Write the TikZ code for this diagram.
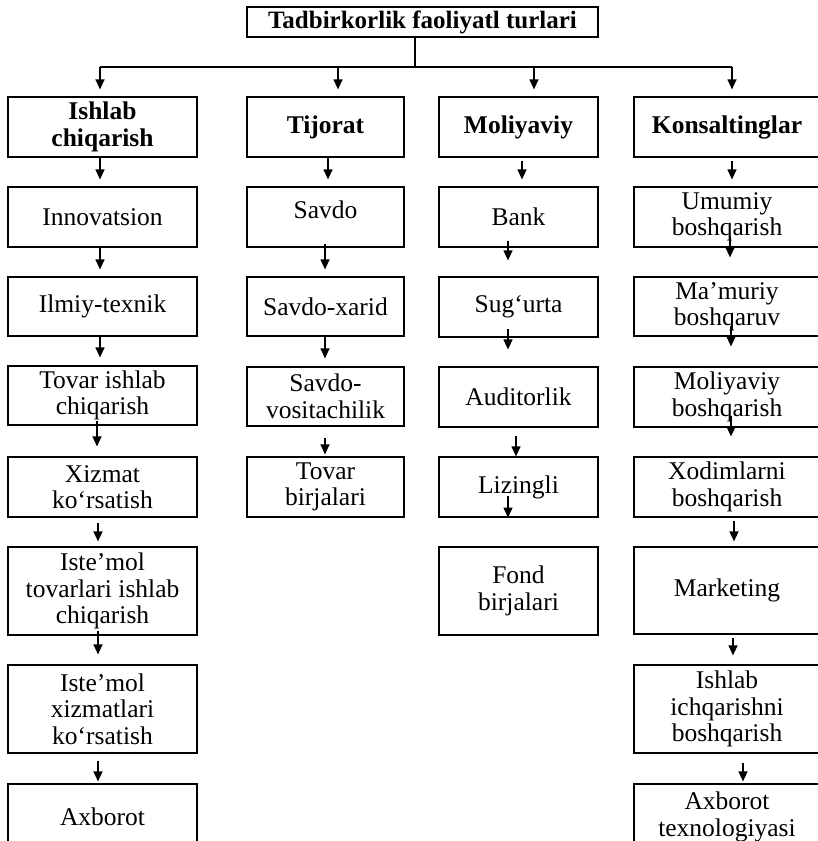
\documentclass[tikz,border=0pt]{standalone}
\usepackage{fontspec}
\setmainfont{Liberation Serif}
\usetikzlibrary{arrows.meta}
\tikzset{
  box/.style={draw, line width=1.2pt, inner sep=0pt, align=center,
    font=\fontsize{25.5}{26.5}\selectfont},
  hbox/.style={box, font=\fontsize{25.5}{26.5}\selectfont\bfseries},
  colA/.style={minimum width=189pt},
  colB/.style={minimum width=157pt},
  colC/.style={minimum width=159pt},
  colD/.style={minimum width=186pt},
  arr/.style={-{Triangle[length=10pt,width=9pt]}, line width=1.2pt},
  trunk/.style={line width=1.2pt}
}
% \conn{from}{to}{xshift}{start yshift}{end yshift}
\newcommand{\conn}[5]{\draw[arr] ([xshift=#3pt,yshift=#4pt]#1.south) -- ([xshift=#3pt,yshift=#5pt]#2.north);}
\begin{document}
\begin{tikzpicture}[x=1pt,y=-1pt]
\clip (0,0) rectangle (818,841);
\fill[white] (0,0) rectangle (818,841);
% title
\node[hbox, minimum width=351pt, minimum height=30pt, font=\fontsize{25}{26}\selectfont\bfseries] (title) at (422.5,22) {Tadbirkorlik faoliyatl turlari};
% headings
\node[hbox, colA, minimum height=60pt] (A1) at (102.5,127) {Ishlab\\chiqarish};
\node[hbox, colB, minimum height=60pt] (A2) at (325.5,127) {Tijorat};
\node[hbox, colC, minimum height=60pt] (A3) at (518.5,127) {Moliyaviy};
\node[hbox, colD, minimum height=60pt] (A4) at (727,127) {Konsaltinglar};
% column 1
\node[box, colA, minimum height=60pt] (a1) at (102.5,217) {Innovatsion};
\node[box, colA, minimum height=59pt] (a2) at (102.5,306.5) {Ilmiy-texnik};
\node[box, colA, minimum height=59pt] (a3) at (102.5,395.5) {Tovar ishlab\\chiqarish};
\node[box, colA, minimum height=60pt] (a4) at (102.5,487) {Xizmat\\ko‘rsatish};
\node[box, colA, minimum height=88pt] (a5) at (102.5,591) {Iste’mol\\tovarlari ishlab\\chiqarish};
\node[box, colA, minimum height=88pt] (a6) at (102.5,709) {Iste’mol\\xizmatlari\\ko‘rsatish};
\node[box, colA, minimum height=66pt] (a7) at (102.5,817) {Axborot};
% column 2
\node[box, colB, minimum height=60pt] (b1) at (325.5,217) {\raisebox{15pt}{Savdo}};
\node[box, colB, minimum height=59pt] (b2) at (325.5,306.5) {Savdo-xarid};
\node[box, colB, minimum height=59pt] (b3) at (325.5,396.5) {Savdo-\\vositachilik};
\node[box, colB, minimum height=60pt] (b4) at (325.5,487) {Tovar\\birjalari};
% column 3
\node[box, colC, minimum height=60pt] (c1) at (518.5,217) {Bank};
\node[box, colC, minimum height=60pt] (c2) at (518.5,307) {Sug‘urta};
\node[box, colC, minimum height=60pt] (c3) at (518.5,397) {Auditorlik};
\node[box, colC, minimum height=60pt] (c4) at (518.5,487) {Lizingli};
\node[box, colC, minimum height=88pt] (c5) at (518.5,591) {Fond\\birjalari};
% column 4
\node[box, colD, minimum height=60pt] (d1) at (727,217) {Umumiy\\boshqarish};
\node[box, colD, minimum height=59pt] (d2) at (727,306.5) {Ma’muriy\\boshqaruv};
\node[box, colD, minimum height=60pt] (d3) at (727,397) {Moliyaviy\\boshqarish};
\node[box, colD, minimum height=60pt] (d4) at (727,487) {Xodimlarni\\boshqarish};
\node[box, colD, minimum height=87pt] (d5) at (727,590.5) {Marketing};
\node[box, colD, minimum height=88pt] (d6) at (727,709) {Ishlab\\ichqarishni\\boshqarish};
\node[box, colD, minimum height=66pt] (d7) at (727,817) {Axborot\\texnologiyasi};
% trunk
\coordinate (tj) at (415,67);
\coordinate (h1) at (100,67);
\coordinate (h2) at (338,67);
\coordinate (h3) at (534,67);
\coordinate (h4) at (732,67);
\draw[trunk] (title.south -| tj) -- (tj);
\draw[trunk] (h1) -- (h4);
\draw[arr] (h1) -- ([yshift=7pt]h1 |- A1.north);
\draw[arr] (h2) -- ([yshift=7pt]h2 |- A2.north);
\draw[arr] (h3) -- ([yshift=7pt]h3 |- A3.north);
\draw[arr] (h4) -- ([yshift=7pt]h4 |- A4.north);
% column 1 arrows
\conn{A1}{a1}{-2.5}{0}{7}
\conn{a1}{a2}{-2.5}{0}{7}
\conn{a2}{a3}{-2.5}{0}{8}
\conn{a3}{a4}{-5.5}{5}{10}
\conn{a4}{a5}{-4.5}{-5}{5}
\conn{a5}{a6}{-4.5}{5}{10}
\conn{a6}{a7}{-4.5}{-7}{2}
% column 2 arrows
\conn{A2}{b1}{2.5}{0}{7}
\conn{b1}{b2}{-0.5}{4}{7}
\conn{b2}{b3}{-0.5}{0}{8}
\conn{b3}{b4}{-0.5}{-11}{2}
% column 3 arrows
\conn{A3}{c1}{3.5}{-3}{7}
\conn{c1}{c2}{-10.5}{7}{16}
\conn{c2}{c3}{-10.5}{9}{17}
\conn{c3}{c4}{-2.5}{-8}{0}
\draw[arr] ([xshift=-10.5pt,yshift=22pt]c4.south) -- ([xshift=-10.5pt]c4.south);
% column 4 arrows
\conn{A4}{d1}{5}{-3}{7}
\conn{d1}{d2}{3}{12}{19}
\conn{d2}{d3}{4}{11}{20}
\conn{d3}{d4}{4}{12}{20}
\conn{d4}{d5}{7}{-3}{5}
\conn{d5}{d6}{6}{-3}{9}
\conn{d6}{d7}{16}{-9}{2}
\end{tikzpicture}
\end{document}
